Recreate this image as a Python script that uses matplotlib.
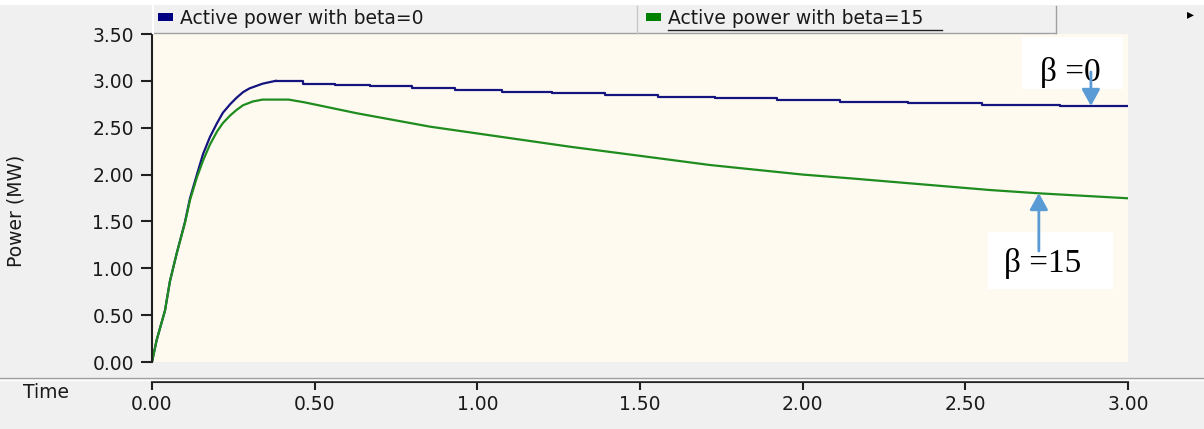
import matplotlib
matplotlib.use("Agg")
import matplotlib.pyplot as plt
from matplotlib.patches import Rectangle
from matplotlib.lines import Line2D

# Values (time in s, power in MW).
blue_t_rise = [0, 0.014, 0.04, 0.055, 0.076, 0.101, 0.117, 0.138, 0.157,
               0.178, 0.20, 0.218, 0.24, 0.26, 0.28, 0.30, 0.34, 0.38]
blue_p_rise = [0, 0.23, 0.55, 0.86, 1.16, 1.49, 1.75, 2.00, 2.22,
               2.40, 2.55, 2.66, 2.75, 2.82, 2.88, 2.92, 2.97, 3.00]
blue_t_step = [0.38, 0.464, 0.5625, 0.670, 0.799, 0.931, 1.076, 1.230, 1.392,
               1.555, 1.730, 1.921, 2.115, 2.324, 2.551, 2.791, 3.0]
blue_p_step = [3.00, 2.967, 2.956, 2.945, 2.921, 2.906, 2.884, 2.867, 2.849,
               2.831, 2.814, 2.796, 2.778, 2.764, 2.746, 2.732, 2.732]

green_t = [0, 0.014, 0.04, 0.055, 0.076, 0.101, 0.117, 0.138, 0.157, 0.178,
           0.20, 0.218, 0.24, 0.26, 0.28, 0.31, 0.34, 0.42, 0.47, 0.63,
           0.855, 1.07, 1.285, 1.5, 1.715, 2.0, 2.146, 2.576, 2.726, 3.0]
green_p = [0, 0.23, 0.55, 0.86, 1.16, 1.48, 1.73, 1.97, 2.15, 2.32,
           2.46, 2.55, 2.63, 2.69, 2.74, 2.78, 2.80, 2.80, 2.77, 2.654,
           2.511, 2.404, 2.297, 2.20, 2.102, 2.0, 1.96, 1.835, 1.80, 1.747]

series_labels = ["Active power with beta=0", "Active power with beta=15"]
y_ticks = [0.0, 0.5, 1.0, 1.5, 2.0, 2.5, 3.0, 3.5]
x_ticks = [0.0, 0.5, 1.0, 1.5, 2.0, 2.5, 3.0]

W, H = 1204, 429
BLUE = "#14147f"
GREEN = "#1e8c1e"
ARROW = "#5b9bd5"
GRAY = "#f0f0f0"
FONT = 13.5


def fx(x):
    return x / W


def fy(y):
    return 1 - y / H


fig = plt.figure(figsize=(W / 100, H / 100), dpi=100, facecolor=GRAY)

# white strip on top
fig.patches.append(Rectangle((0, fy(5)), 1, 5 / H, transform=fig.transFigure,
                             facecolor="white", edgecolor="none"))

# main plot area
ax = fig.add_axes([fx(152), fy(362), fx(1128 - 152), (362 - 34) / H])
ax.set_facecolor("#fefaf0")
ax.plot(blue_t_rise, blue_p_rise, color=BLUE, lw=1.6)
ax.plot(blue_t_step, blue_p_step, color=BLUE, lw=1.6, drawstyle="steps-post")
ax.plot(green_t, green_p, color=GREEN, lw=1.6)
ax.set_xlim(0, 3.0)
ax.set_ylim(0, 3.5)
for s in ["top", "right", "bottom"]:
    ax.spines[s].set_visible(False)
ax.spines["left"].set_linewidth(1.5)
ax.spines["left"].set_color("#202020")
ax.set_xticks([])
ax.set_yticks(y_ticks)
ax.set_yticklabels(["%.2f" % v for v in y_ticks])
ax.tick_params(axis="y", length=8, width=1.5, color="#202020",
               labelsize=FONT, labelcolor="#1a1a1a", pad=5)
fig.text(fx(16), fy(211), "Power (MW)", fontsize=FONT, rotation=90,
         ha="center", va="center", color="#1a1a1a")

# annotation boxes and arrows
ax.add_patch(Rectangle((2.674, 2.913), 0.311, 0.555, facecolor="white",
                       edgecolor="none", clip_on=False, zorder=4))
ax.add_patch(Rectangle((2.570, 0.779), 0.384, 0.608, facecolor="white",
                       edgecolor="none", clip_on=False, zorder=4))
ax.text(2.728, 2.995, "\u03b2 =0", fontsize=24, family="Liberation Serif",
        va="baseline", ha="left", zorder=5)
ax.text(2.620, 0.960, "\u03b2 =15", fontsize=24, family="Liberation Serif",
        va="baseline", ha="left", zorder=5)
arrow = dict(arrowstyle="-|>,head_width=0.55,head_length=1.0", color=ARROW,
             lw=2, mutation_scale=10, shrinkA=0, shrinkB=0)
ax.annotate("", xy=(2.886, 2.732), xytext=(2.886, 3.095), arrowprops=arrow,
            zorder=6, annotation_clip=False)
ax.annotate("", xy=(2.726, 1.803), xytext=(2.726, 1.184), arrowprops=arrow,
            zorder=6, annotation_clip=False)

# separator above the time axis
fig.add_artist(Line2D([0, 1], [fy(378), fy(378)], color="#a0a0a0", lw=1))
fig.add_artist(Line2D([0, 1], [fy(379.5), fy(379.5)], color="white", lw=1))

# time axis
axt = fig.add_axes([fx(152), fy(382), fx(1128 - 152), 0.0001])
axt.set_xlim(0, 3.0)
axt.patch.set_visible(False)
for s in ["top", "right", "left"]:
    axt.spines[s].set_visible(False)
axt.spines["bottom"].set_linewidth(1.5)
axt.spines["bottom"].set_color("#202020")
axt.set_yticks([])
axt.set_xticks(x_ticks)
axt.set_xticklabels(["%.2f" % v for v in x_ticks])
axt.tick_params(axis="x", length=6, width=1.5, color="#202020",
                labelsize=FONT, labelcolor="#1a1a1a", pad=3)
fig.text(fx(46), fy(393), "Time", fontsize=FONT, ha="center", va="center",
         color="#1a1a1a")

# legend header
fig.patches.append(Rectangle((fx(152), fy(33)), fx(1056 - 152), 28 / H,
                             transform=fig.transFigure, facecolor=GRAY,
                             edgecolor="none"))
fig.add_artist(Line2D([fx(152), fx(1056)], [fy(33), fy(33)], color="#a0a0a0", lw=1))
fig.add_artist(Line2D([fx(153), fx(153)], [fy(33), fy(6)], color="white", lw=1.5))
fig.add_artist(Line2D([fx(637), fx(637)], [fy(33), fy(6)], color="#c8c8c8", lw=1))
fig.add_artist(Line2D([fx(1056), fx(1056)], [fy(33), fy(6)], color="#a0a0a0", lw=1))
fig.patches.append(Rectangle((fx(158), fy(21)), fx(15), 8 / H,
                             transform=fig.transFigure, facecolor="#000080",
                             edgecolor="none"))
fig.patches.append(Rectangle((fx(646), fy(21)), fx(15), 8 / H,
                             transform=fig.transFigure, facecolor="#008000",
                             edgecolor="none"))
fig.text(fx(180), fy(18), series_labels[0], fontsize=FONT, va="center",
         color="#1a1a1a")
fig.text(fx(668), fy(18), series_labels[1], fontsize=FONT, va="center",
         color="#1a1a1a")
fig.add_artist(Line2D([fx(668), fx(942)], [fy(29.5), fy(29.5)], color="#202020", lw=1))
fig.text(fx(1190), fy(14), "\u25b8", fontsize=10, ha="center", va="center")

fig.savefig("out.png", dpi=100, facecolor=GRAY)
